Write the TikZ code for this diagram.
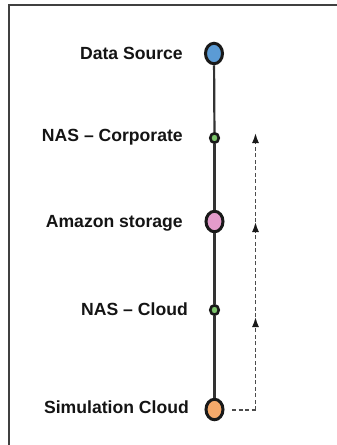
\documentclass[tikz,border=0pt]{standalone}
\usepackage{fontspec}
\setmainfont{Liberation Sans}
\usetikzlibrary{shapes.geometric,arrows.meta}
\begin{document}
\begin{tikzpicture}[x=1pt,y=-1pt,
  bignode/.style={ellipse,draw=black!90,line width=3pt,minimum width=17pt,minimum height=20.5pt,inner sep=0pt},
  smallnode/.style={ellipse,draw=black!90,line width=2.6pt,minimum width=8.5pt,minimum height=9.5pt,inner sep=0pt,fill=nasgreen},
  lbl/.style={anchor=base east,font=\bfseries\fontsize{17.6}{20}\selectfont,text=black!92,inner sep=0pt},
  mainline/.style={draw=black!80,line width=2.2pt},
  dashline/.style={draw=black!70,line width=1.5pt,dash pattern=on 4pt off 2.5pt},
  arr/.style={-{Latex[length=10pt,width=7pt,fill=black!90,color=black!90]}}
]
\definecolor{dsblue}{HTML}{5B9BD5}
\definecolor{nasgreen}{HTML}{7DC66B}
\definecolor{amzpink}{HTML}{E39BCB}
\definecolor{simorange}{HTML}{F5A96A}
\useasboundingbox (0,0) rectangle (337,445);
% frame
\draw[draw=black!75,line width=2.6pt] (9,445) -- (9,5) -- (337,5);
% nodes
\node[bignode,fill=dsblue] (ds) at (214,53.5) {};
\node[smallnode] (nc) at (214.5,138) {};
\node[bignode,fill=amzpink] (az) at (214.5,221.5) {};
\node[smallnode] (ncl) at (214.5,310) {};
\node[bignode,fill=simorange] (sc) at (214.5,409.5) {};
% main line
\draw[mainline] (ds) -- (nc);
\draw[mainline] (nc) -- (az);
\draw[mainline] (az) -- (ncl);
\draw[mainline] (ncl) -- (sc);
% labels
\node[lbl] (lds) at (183,59.5) {Data Source};
\node[lbl] (lnc) at (183,141.7) {NAS – Corporate};
\node[lbl] (laz) at (183,227) {Amazon storage};
\node[lbl] (lncl) at (188,315) {NAS – Cloud};
\node[lbl] (lsc) at (189,413.5) {Simulation Cloud};
% dashed return
\coordinate (d0) at (232,410);
\coordinate (corner) at (255.5,410);
\coordinate (a3) at (255.5,317);
\coordinate (a2) at (255.5,222);
\coordinate (a1) at (255.5,133);
\draw[dashline] (d0) -- (corner);
\draw[dashline,arr] (corner) -- (a3);
\draw[dashline,arr] (a3) -- (a2);
\draw[dashline,arr] (a2) -- (a1);
\end{tikzpicture}
\end{document}
